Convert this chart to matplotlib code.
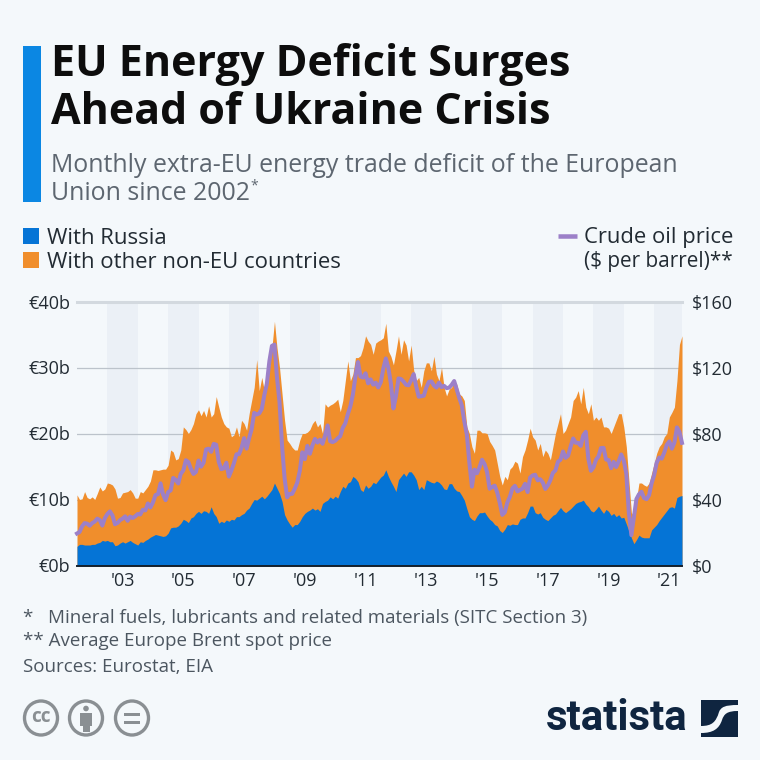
import numpy as np
import matplotlib
matplotlib.use("Agg")
import matplotlib.pyplot as plt
from matplotlib.patches import Rectangle, Circle, Ellipse, PathPatch
from matplotlib.path import Path

title_lines = ["EU Energy Deficit Surges", "Ahead of Ukraine Crisis"]
subtitle_lines = ["Monthly extra-EU energy trade deficit of the European", "Union since 2002"]
series_names = ["With Russia", "With other non-EU countries"]
oil_name = ["Crude oil price", "($ per barrel)**"]
y_left = ["€0b", "€10b", "€20b", "€30b", "€40b"]
y_right = ["$0", "$40", "$80", "$120", "$160"]
left_vals = [0, 10, 20, 30, 40]
right_vals = [0, 40, 80, 120, 160]
x_years = [2003, 2005, 2007, 2009, 2011, 2013, 2015, 2017, 2019, 2021]
x_labels = ["'03", "'05", "'07", "'09", "'11", "'13", "'15", "'17", "'19", "'21"]
notes = ["*   Mineral fuels, lubricants and related materials (SITC Section 3)",
         "** Average Europe Brent spot price", "Sources: Eurostat, EIA"]

russia = [2.9,3.2,3.2,3.1,3.1,3.1,3.2,3.2,3.4,3.5,3.8,3.7,
          3.8,3.6,3.6,3.0,3.1,3.4,3.6,3.4,3.6,3.8,3.5,3.3,
          3.1,3.6,3.5,3.8,4.0,4.3,4.5,4.7,4.6,4.5,4.4,4.5,
          4.9,5.7,5.8,5.8,6.0,6.4,7.0,6.8,6.5,7.2,7.4,7.9,
          8.2,7.9,8.3,8.2,7.9,8.9,7.9,7.4,6.4,6.7,6.5,6.9,
          6.7,7.0,6.9,7.4,7.4,7.7,7.9,8.4,8.7,9.4,10.0,9.9,
          10.2,10.5,10.1,10.5,11.0,11.5,12.5,11.7,10.9,9.7,7.7,6.9,
          6.3,5.8,6.2,6.2,6.7,7.4,7.9,8.2,8.4,8.7,8.4,8.6,
          8.2,9.4,9.7,9.9,10.4,10.1,10.5,10.2,11.2,12.0,11.7,12.5,
          12.7,13.5,13.2,12.7,11.5,11.2,12.2,11.7,12.0,12.6,12.4,12.9,
          13.4,13.7,14.5,13.5,12.7,12.0,11.2,13.0,13.5,14.0,13.5,14.2,
          14.2,13.7,13.0,11.5,12.0,11.5,13.0,12.8,12.6,12.5,12.8,12.6,
          12.2,11.6,11.5,12.4,12.4,11.7,11.3,11.2,10.6,9.9,8.6,7.4,
          7.0,6.8,7.5,8.0,8.0,8.1,7.5,7.0,6.7,6.2,6.0,5.3,
          5.0,5.5,6.2,6.1,6.3,6.2,6.2,7.0,7.2,7.2,8.0,9.0,
          9.0,8.0,7.8,8.0,7.3,7.0,6.8,7.2,7.6,7.8,8.3,8.8,
          8.3,8.0,8.3,8.6,9.0,9.4,9.6,9.7,9.9,9.3,8.9,8.3,
          8.1,8.5,9.0,8.4,7.9,8.5,8.2,7.6,7.9,7.4,7.7,7.2,
          7.3,6.3,5.2,4.2,3.3,3.9,4.6,4.3,4.2,4.2,4.2,5.4,
          5.8,6.2,6.8,7.3,7.8,8.3,8.8,8.9,8.7,10.3,10.5,10.6]

total = [10.7,10.0,10.1,11.2,10.3,10.1,10.4,10.0,10.9,11.9,11.3,11.6,
         12.5,12.4,12.2,11.6,10.2,10.3,11.0,11.1,11.2,11.5,11.0,10.2,
         10.2,11.2,11.0,11.5,12.0,12.8,14.5,14.5,14.4,14.5,14.6,14.6,
         15.2,17.5,17.2,16.0,16.2,17.5,21.0,20.6,20.0,20.6,21.5,23.0,
         23.6,22.7,23.5,22.5,24.2,22.5,23.0,25.6,24.0,22.5,21.5,21.0,
         20.8,19.5,19.8,21.0,19.5,22.0,21.5,20.5,23.0,25.0,27.0,31.2,
         26.5,28.5,26.5,28.0,30.0,33.0,37.0,33.0,30.0,26.0,22.0,19.0,
         18.5,17.9,17.5,17.5,19.0,20.0,20.0,20.2,20.6,21.5,22.0,21.0,
         21.5,20.0,24.5,24.0,24.3,24.5,24.8,25.2,23.3,25.0,28.0,31.0,
         28.0,29.0,31.5,31.5,31.8,33.0,34.8,34.0,33.5,32.0,33.7,34.0,
         34.2,34.5,36.7,32.5,31.7,30.4,32.5,34.8,32.0,34.2,33.4,31.0,
         33.4,29.6,28.0,28.5,27.0,29.5,30.7,30.7,29.5,31.7,29.0,28.0,
         30.0,27.0,25.7,26.7,27.0,28.0,27.5,26.0,25.7,25.0,21.0,20.0,
         18.0,17.0,20.5,20.5,20.1,20.1,20.0,18.8,18.2,17.5,15.5,13.5,
         12.2,13.5,13.0,14.6,15.0,15.8,15.5,14.0,16.5,17.5,19.0,20.8,
         19.5,19.0,17.5,18.5,16.5,17.5,17.0,16.0,18.0,20.0,21.5,23.0,
         20.0,20.5,21.5,22.5,25.0,25.5,26.5,24.5,27.0,24.0,23.0,24.5,
         22.0,22.5,22.0,22.5,21.0,21.0,20.8,20.0,21.0,22.0,23.0,23.0,
         21.0,18.0,13.0,8.0,7.5,10.0,12.5,12.5,12.2,12.0,12.5,14.0,
         15.5,17.0,18.0,18.5,19.5,20.0,22.5,23.2,24.0,28.0,33.5,34.8]

oil = [19.4,20.3,23.7,25.7,25.4,24.1,25.7,26.6,28.4,27.5,24.2,28.7,
       31.2,32.8,30.4,25.0,25.8,27.5,28.4,29.8,27.1,29.6,28.8,29.8,
       31.2,30.9,33.8,33.4,37.6,35.2,38.2,42.7,43.2,49.8,43.0,39.6,
       44.5,45.5,53.1,51.9,49.7,55.6,57.6,63.8,62.7,58.5,55.5,56.7,
       63.6,59.9,62.3,70.4,70.8,68.9,73.7,73.2,62.8,58.4,58.9,62.3,
       53.9,57.6,62.1,67.4,67.5,71.3,77.2,70.8,77.2,82.7,92.5,91.5,
       92.2,94.9,103.3,110.2,123.9,133.1,133.9,113.9,99.1,72.7,53.0,41.3,
       43.4,43.4,46.5,50.2,57.3,68.6,64.4,72.5,67.7,72.8,76.7,74.5,
       76.2,73.8,78.8,84.9,75.3,74.8,75.6,77.1,78.4,83.5,86.2,91.8,
       96.5,103.7,114.6,123.3,114.5,113.9,116.5,110.4,112.8,109.6,110.8,107.9,
       111.0,119.3,125.5,119.8,110.3,95.2,102.6,113.4,113.0,111.5,109.5,109.2,
       112.3,116.0,108.5,102.3,102.6,102.9,107.9,111.3,111.6,109.1,107.8,110.8,
       108.1,108.9,107.5,107.8,109.5,111.8,106.8,101.6,97.1,87.4,79.4,62.3,
       47.8,58.1,55.9,59.5,64.1,61.5,56.6,46.5,47.6,48.4,44.3,38.0,
       30.7,32.2,38.2,41.6,46.7,48.3,44.9,45.8,46.6,49.5,44.5,53.3,
       54.6,55.0,51.6,52.3,50.3,46.4,48.5,51.7,56.2,57.6,62.9,64.1,
       69.1,65.2,66.5,72.1,77.0,74.4,74.3,72.5,78.9,81.0,64.8,57.4,
       59.4,64.0,66.1,71.2,71.3,64.2,63.9,59.0,62.8,59.7,63.2,67.3,
       63.6,55.7,32.0,18.4,29.4,40.3,43.2,44.7,40.9,40.2,42.7,49.9,
       54.8,62.3,65.4,64.8,68.5,73.2,75.2,70.8,74.5,83.7,81.0,74.3]

BG = "#f4f8fb"; BLUE = "#0574d6"; ORANGE = "#f08e2c"; PURPLE = "#9c80c8"
DARK = "#0f2540"; GREY = "#5d6670"; BAR = "#0b87e3"; BAND = "#ebf0f6"; GRID = "#bcc3cb"
plt.rcParams['font.family'] = ['Open Sans', 'DejaVu Sans']

W = 760
fig = plt.figure(figsize=(7.6, 7.6), dpi=100, facecolor=BG)
px = lambda v: v * 0.72

bg = fig.add_axes([0, 0, 1, 1], zorder=0)
bg.set_xlim(0, W); bg.set_ylim(W, 0); bg.axis("off")
bg.add_patch(Rectangle((23, 46), 18, 156, color=BAR, lw=0))
for y, s in zip([64, 113], title_lines):
    bg.text(51, y, s, fontsize=px(43), fontweight="bold", color="#0d0d0d", va="center", ha="left")
for y, s in zip([165, 194], subtitle_lines):
    bg.text(51, y, s, fontsize=px(24.85), color=GREY, va="center", ha="left")
bg.text(250, 186, "*", fontsize=px(14), color=GREY, va="center", ha="left")
bg.add_patch(Rectangle((23, 228), 16, 16, color=BLUE, lw=0))
bg.add_patch(Rectangle((23, 252), 16, 16, color=ORANGE, lw=0))
bg.text(47, 238, series_names[0], fontsize=px(22.2), color="#222b33", va="center")
bg.text(47, 262, series_names[1], fontsize=px(22.2), color="#222b33", va="center")
bg.plot([558, 577], [236, 236], color=PURPLE, lw=px(4.5), solid_capstyle="butt")
bg.text(733, 238, oil_name[0], fontsize=px(22), color="#222b33", va="center", ha="right")
bg.text(733, 262, oil_name[1], fontsize=px(20.75), color="#222b33", va="center", ha="right")
for y, s in zip([618, 641, 667], notes):
    bg.text(23, y, s, fontsize=px(18.8), color="#4c5660", va="center")

# Licence icons
ICON = "#8a8f93"
for cx in [41, 86, 132]:
    bg.add_patch(Ellipse((cx, 718), 33, 34, fc="none", ec=ICON, lw=2.4))
bg.text(41, 717, "cc", fontsize=px(19), fontweight="bold", color=ICON, ha="center", va="center")
bg.add_patch(Circle((86, 708.5), 2.8, color=ICON, lw=0))
bg.add_patch(Rectangle((80, 713), 12, 13, color=ICON, lw=0))
bg.add_patch(Rectangle((82.5, 725), 7, 7, color=ICON, lw=0))
bg.add_patch(Rectangle((124, 713), 16, 3.4, color=ICON, lw=0))
bg.add_patch(Rectangle((124, 720.5), 16, 3.4, color=ICON, lw=0))

# Statista logo
bg.text(546, 719, "statista", fontsize=px(42), fontweight="bold", color=DARK, va="center", ha="left",
        family=["Roboto", "DejaVu Sans"])
bg.add_patch(Rectangle((701, 700), 37, 37, color=DARK, lw=0))
s_curve = Path([(701, 726), (712, 726), (716, 722), (719, 712), (721, 707), (725, 705), (738, 705),
                (738, 711), (727, 711), (724, 714), (722, 720), (719, 729), (713, 733), (701, 733), (701, 726)],
               [Path.MOVETO, Path.CURVE4, Path.CURVE4, Path.CURVE4, Path.CURVE4, Path.CURVE4, Path.CURVE4,
                Path.LINETO, Path.CURVE4, Path.CURVE4, Path.CURVE4, Path.CURVE4, Path.CURVE4, Path.CURVE4, Path.CLOSEPOLY])
bg.add_patch(PathPatch(s_curve, fc=BG, ec="none"))

# Chart
x = 2002 + np.arange(len(russia)) / 12
ax = fig.add_axes([77 / W, 1 - 565.5 / W, 605 / W, 264 / W], zorder=1)
ax.patch.set_alpha(0)
ax.set_xlim(x[0], x[-1]); ax.set_ylim(0, 40)
for yr in x_years:
    ax.axvspan(yr, yr + 1, color=BAND, lw=0, zorder=0)
for v in left_vals[1:-1]:
    ax.axhline(v, color=GRID, lw=0.9, zorder=1)
ax.axhline(40, color="#d3d9df", lw=2.2, zorder=1, clip_on=False)
ax.fill_between(x, 0, total, color=ORANGE, lw=0, zorder=2)
ax.fill_between(x, 0, russia, color=BLUE, lw=0, zorder=3)
ax.set_yticks(left_vals, y_left)
ax.set_xticks(np.array(x_years) + 0.5, x_labels)
ax.tick_params(length=0, labelsize=px(18), labelcolor="#222b33")
ax.tick_params(axis="y", pad=5)
ax.tick_params(axis="x", pad=5)
for s in ["top", "left", "right"]:
    ax.spines[s].set_visible(False)
ax.spines["bottom"].set_color("#14202c"); ax.spines["bottom"].set_linewidth(1.4)
ax.spines["bottom"].set_zorder(6)

ax2 = ax.twinx()
ax2.patch.set_alpha(0)
ax2.set_ylim(0, 160)
ax2.plot(x, oil, color=PURPLE, lw=px(4), solid_joinstyle="round", zorder=5, clip_on=False)
ax2.set_yticks(right_vals, y_right)
ax2.tick_params(length=0, labelsize=px(18), labelcolor="#222b33", pad=7)
for s in ["top", "left", "right", "bottom"]:
    ax2.spines[s].set_visible(False)

fig.savefig("out.png", dpi=100, facecolor=BG)
